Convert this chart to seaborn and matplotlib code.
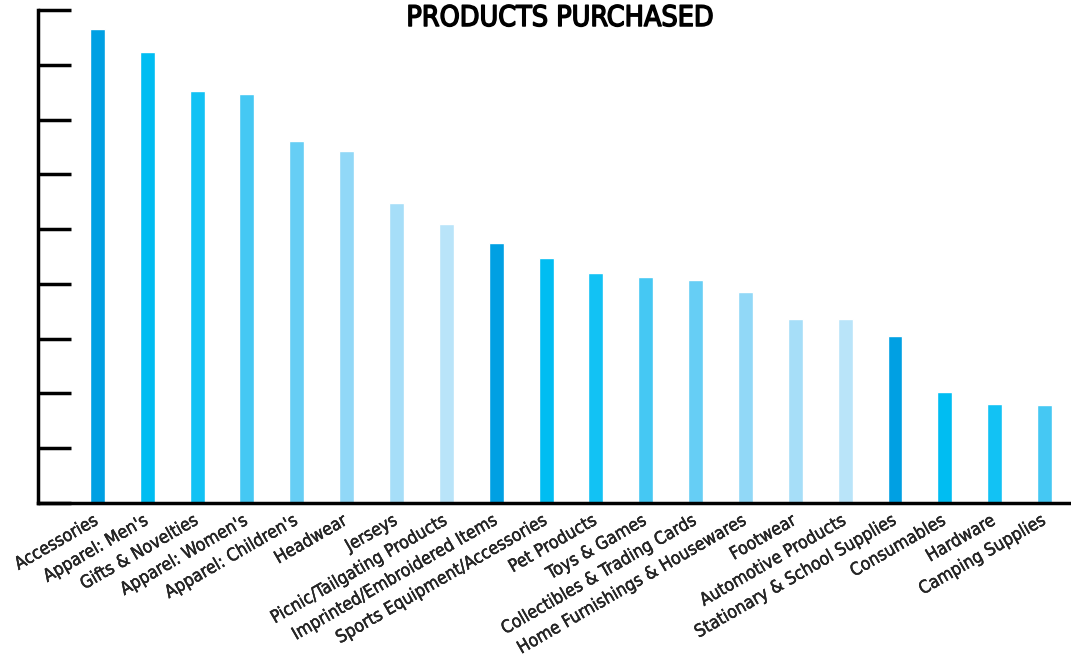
import matplotlib
matplotlib.use("Agg")
import matplotlib.pyplot as plt
import matplotlib.transforms as mtransforms
import matplotlib.patheffects as pe
import seaborn as sns
import pandas as pd

categories = ["Accessories", "Apparel: Men's", "Gifts & Novelties", "Apparel: Women's",
              "Apparel: Children's", "Headwear", "Jerseys", "Picnic/Tailgating Products",
              "Imprinted/Embroidered Items", "Sports Equipment/Accessories", "Pet Products",
              "Toys & Games", "Collectibles & Trading Cards", "Home Furnishings & Housewares",
              "Footwear", "Automotive Products", "Stationary & School Supplies",
              "Consumables", "Hardware", "Camping Supplies"]
values = [8.65, 8.23, 7.53, 7.46, 6.60, 6.42, 5.47, 5.10, 4.75, 4.48,
          4.20, 4.13, 4.08, 3.86, 3.36, 3.36, 3.05, 2.03, 1.81, 1.79]
palette_cycle = ["#00A0E3", "#00BDF2", "#12C2F4", "#45C8F3",
                 "#66CEF5", "#91D8F7", "#A6DEF8", "#B9E4F9"]

sns.set_theme(style="white")
plt.rcParams['font.family'] = ['DejaVu Sans']
plt.rcParams['font.stretch'] = 'condensed'

df = pd.DataFrame({"category": categories, "value": values})
colors = [palette_cycle[i % len(palette_cycle)] for i in range(len(categories))]

fig = plt.figure(figsize=(10.71, 6.57), dpi=100)
ax = fig.add_axes([38/1071, 154/657, 1 - 38/1071, 493/657])
sns.barplot(data=df, x="category", y="value", hue="category", palette=colors,
            legend=False, width=0.3, ax=ax, saturation=1)

ax.set_xlim(-1.19, 19.53)
ax.set_ylim(0, 9)
ax.set_yticks(range(0, 10))
ax.set_yticklabels([])
ax.tick_params(axis='y', direction='in', length=24, width=2.5, color='black', left=True)
ax.tick_params(axis='x', length=0, pad=6)
ax.set_xticks(range(len(categories)))
ax.set_xticklabels(categories, rotation=30, ha='right', rotation_mode='anchor',
                   fontsize=12.7, fontstretch='condensed')
offset = mtransforms.ScaledTranslation(-5/100, 0, fig.dpi_scale_trans)
for lbl in ax.get_xticklabels():
    lbl.set_transform(lbl.get_transform() + offset)
    lbl.set_path_effects([pe.withStroke(linewidth=0.3, foreground='black')])
ax.set_xlabel("")
ax.set_ylabel("")
for s in ['top', 'right']:
    ax.spines[s].set_visible(False)
for s in ['left', 'bottom']:
    ax.spines[s].set_color('black')
    ax.spines[s].set_linewidth(2.5)

fig.text(560/1071, 1 - 18/657, "PRODUCTS PURCHASED", ha='center', va='center',
         fontsize=20.5, fontweight='normal', fontstretch='condensed', color='black',
         path_effects=[pe.withStroke(linewidth=1.1, foreground='black')])

fig.savefig("out.png", dpi=100, facecolor='white')
